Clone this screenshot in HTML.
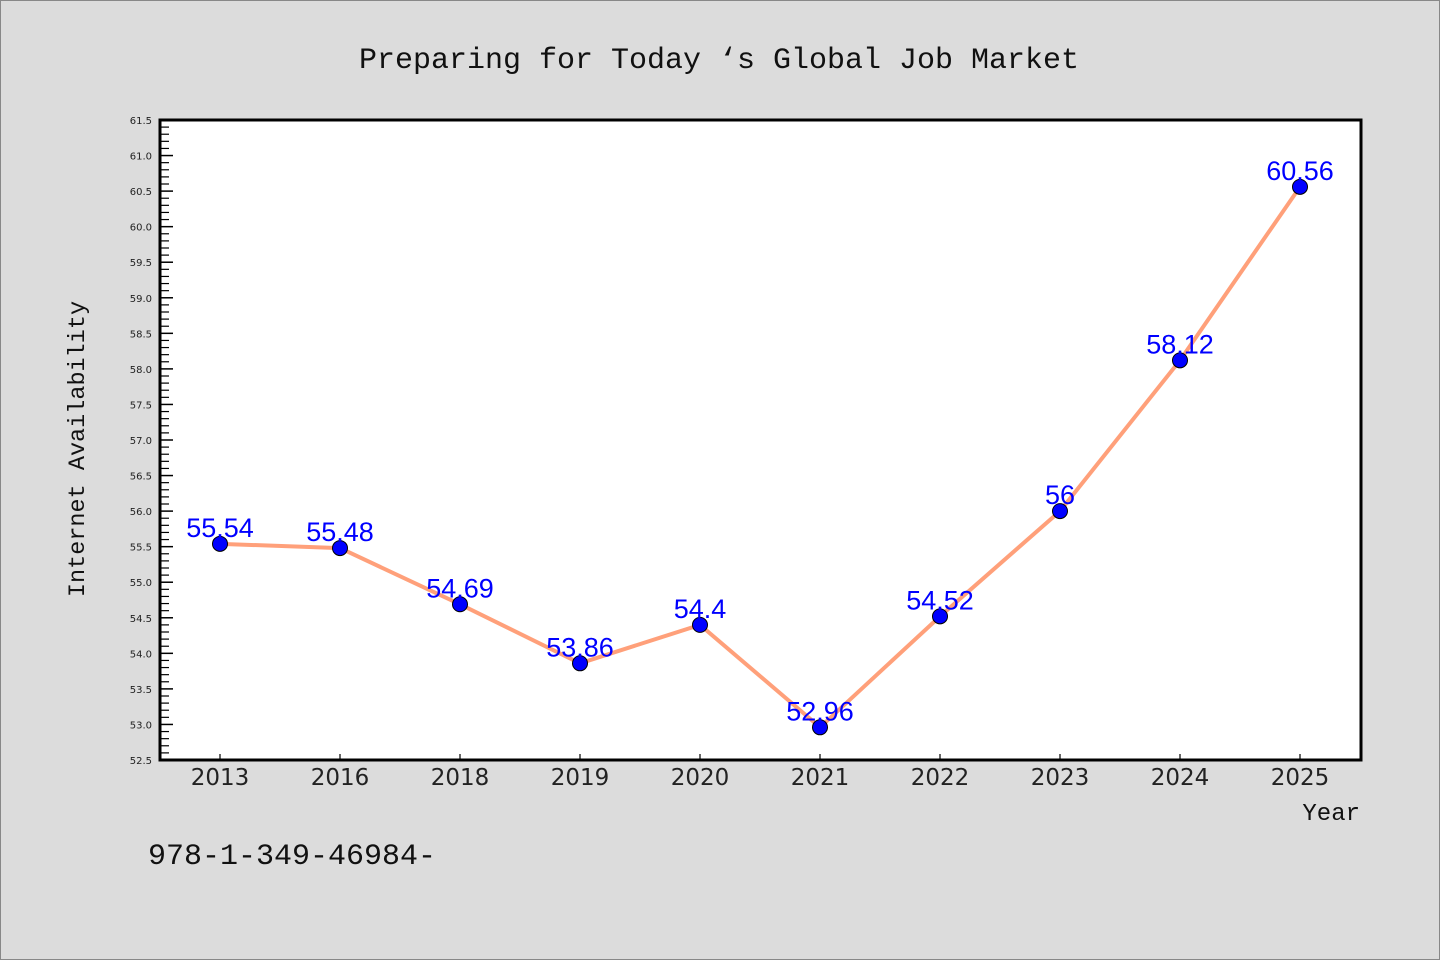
<!DOCTYPE html>
<html><head><meta charset="utf-8"><style>
body{margin:0;background:#dcdcdc;}
svg{display:block}
</style></head><body>
<svg id="chart" width="1440" height="960" xmlns="http://www.w3.org/2000/svg">
<rect x="0.5" y="0.5" width="1439" height="959" fill="#dcdcdc" stroke="#888"/>
<text x="719" y="68" text-anchor="middle" font-family="Liberation Mono, monospace" font-size="30" fill="#111">Preparing for Today ‘s Global Job Market</text>
<rect x="160" y="120" width="1201" height="640" fill="#fff"/>
<g id="axes"></g>
<g id="marks"></g>
<rect x="160" y="120" width="1201" height="640" fill="none" stroke="#000" stroke-width="3"/>
<text transform="translate(84,449) rotate(-90)" text-anchor="middle" font-family="Liberation Mono, monospace" font-size="23.5" fill="#111">Internet Availability</text>
<text x="1360" y="820" text-anchor="end" font-family="Liberation Mono, monospace" font-size="24" fill="#111">Year</text>
<text x="148" y="864" font-family="Liberation Mono, monospace" font-size="30" fill="#111">978-1-349-46984-</text>
</svg>
<script>
const categories=["2013","2016","2018","2019","2020","2021","2022","2023","2024","2025"];
const values=[55.54,55.48,54.69,53.86,54.4,52.96,54.52,56,58.12,60.56];
const valueLabels=["55.54","55.48","54.69","53.86","54.4","52.96","54.52","56","58.12","60.56"];
const yTicks=[52.5,53.0,53.5,54.0,54.5,55.0,55.5,56.0,56.5,57.0,57.5,58.0,58.5,59.0,59.5,60.0,60.5,61.0,61.5];
const NS="http://www.w3.org/2000/svg";
const yMin=52.5,yMax=61.5,plotTop=120,plotBot=760;
function yPos(v){return plotBot-(v-yMin)/(yMax-yMin)*(plotBot-plotTop);}
function xPos(i){return 220+i*120;}
function mk(t,a,p){const e=document.createElementNS(NS,t);for(const k in a)e.setAttribute(k,a[k]);p.appendChild(e);return e;}
const ax=document.getElementById('axes'),mg=document.getElementById('marks');
yTicks.forEach((t,i)=>{
 const l=mk('line',{x1:160,x2:173,y1:yPos(t),y2:yPos(t),stroke:'#000','stroke-width':1.5},ax);
 
 
 const tx=mk('text',{x:152,y:yPos(t)+4,'text-anchor':'end','font-family':'DejaVu Sans, sans-serif','font-size':10,fill:'#222'},ax);
 tx.textContent=t.toFixed(1);
 
 
 if(i<yTicks.length-1){for(let k=1;k<5;k++){const v=t+k*0.1;
  const m=mk('line',{x1:160,x2:169,y1:yPos(v),y2:yPos(v),stroke:'#000','stroke-width':1.2},ax);
  
  }}
});
categories.forEach((c,i)=>{
 const l=mk('line',{x1:xPos(i),x2:xPos(i),y1:plotBot,y2:plotBot-6,stroke:'#000','stroke-width':1.2},ax);
 
 
 const t=mk('text',{x:xPos(i),y:plotBot+25,'text-anchor':'middle','font-family':'DejaVu Sans, sans-serif','font-size':23,fill:'#222'},ax);
 t.textContent=c;
 
 
});
const pl=mk('polyline',{points:values.map((v,i)=>xPos(i)+','+yPos(v)).join(' '),fill:'none',stroke:'#ffa07a','stroke-width':4,'stroke-linejoin':'round'},mg);


values.forEach((v,i)=>{
 const c=mk('circle',{cx:xPos(i),cy:yPos(v),r:7.5,fill:'#0000ff',stroke:'#000','stroke-width':1},mg);
 
 
 const t=mk('text',{x:xPos(i),y:yPos(v)-7,'text-anchor':'middle','font-family':'Liberation Sans, sans-serif','font-size':27,fill:'#0000ff'},mg);
 t.textContent=valueLabels[i];
 
 
});
</script>
</body></html>
